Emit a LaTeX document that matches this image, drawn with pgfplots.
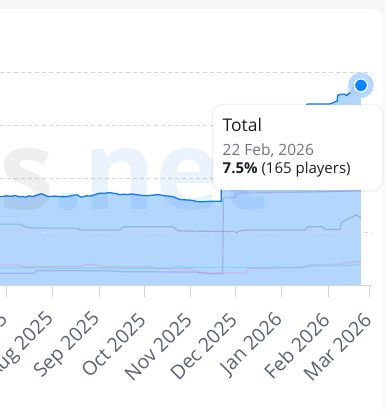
\documentclass[border=0pt]{standalone}
\usepackage{fontspec}
\setmainfont{Open Sans}
\usepackage{pgfplots}
\pgfplotsset{compat=1.18}
\usepackage{pgfplotstable}
\pgfdeclarelayer{bglayer}
\pgfsetlayers{bglayer,main}
\definecolor{bgc}{RGB}{246,246,247}
\definecolor{fillc}{RGB}{179,214,255}
\definecolor{linec}{RGB}{12,124,240}
\definecolor{dotc}{RGB}{10,132,255}
\definecolor{haloc}{RGB}{176,212,255}
\definecolor{gridc}{RGB}{212,214,220}
\definecolor{axisc}{RGB}{208,213,222}
\definecolor{tickc}{RGB}{88,98,118}
\definecolor{titlec}{RGB}{24,30,44}
\definecolor{datec}{RGB}{110,116,128}
\definecolor{s1c}{RGB}{100,110,130}
\definecolor{s2c}{RGB}{120,100,200}
\definecolor{s3c}{RGB}{230,120,150}
\definecolor{s4c}{RGB}{60,210,190}
\definecolor{wmgray}{RGB}{80,80,80}
\definecolor{wmblue}{RGB}{30,120,230}

% day index: 0 = 1 Jul 2025
\pgfplotstableread{
d v
-10 3.36
-6 3.35
-3 3.33
0 3.36
3 3.34
6 3.37
8 3.33
10.7 3.33
13 3.31
15 3.36
17.4 3.33
20 3.38
23.4 3.44
25 3.40
27 3.35
28.8 3.33
32 3.35
36 3.33
40 3.33
43 3.36
47 3.40
49 3.33
50 3.31
52 3.34
53.5 3.36
56 3.35
59 3.40
62 3.46
65 3.45
69 3.48
71 3.46
73.6 3.44
75.6 3.40
78 3.42
81 3.41
84 3.43
87 3.40
90 3.38
93.7 3.36
97 3.38
100 3.40
102 3.40
105 3.37
108 3.35
111 3.33
113 3.29
116 3.22
119 3.21
122.5 3.20
125 3.18
127 3.15
129 3.14
132 3.14
135 3.15
138 3.16
141 3.16
143.5 3.16
144 5.90
150 5.95
160 6.05
170 6.20
180 6.35
190 6.50
198 6.65
201.5 6.80
210 6.80
216 6.80
218 6.84
219.5 6.88
221 6.90
221.5 7.13
224 7.17
226 7.17
227.6 7.12
229 7.20
231 7.26
232 7.45
235 7.48
237 7.50
}\total

\pgfplotstableread{
d v
-10 2.30
8.9 2.30
12.3 2.20
17.7 2.15
47 2.15
49 2.08
75.8 2.08
77.9 2.20
111.3 2.20
114.7 2.05
152.8 2.01
154 1.97
156 2.05
159.5 2.08
199.6 2.08
201.6 2.20
211 2.20
213 2.10
223 2.10
224 2.35
229.4 2.53
234 2.64
237 2.53
}\sgray

\pgfplotstableread{
d v
-10 0.46
19 0.46
20.3 0.58
22.3 0.55
69 0.55
75.8 0.52
129 0.50
136 0.44
144.5 0.44
145 3.28
152.8 3.30
153.4 3.46
200.9 3.50
237 3.55
}\spurple

\pgfplotstableread{
d v
-10 0.77
8.9 0.77
12.3 0.70
49 0.70
52.4 0.79
59 0.79
62.5 0.70
95.9 0.70
99 0.64
122.7 0.64
129 0.47
159.5 0.47
161.5 0.64
196 0.66
203 0.77
223 0.80
237 0.93
}\spink

\pgfplotstableread{
d v
-10 0.67
15.6 0.67
29 0.65
109 0.65
114.7 0.73
119 0.68
199.6 0.68
203 0.73
229.4 0.75
237 0.80
}\steal

\pgfplotstableread{
d v
237 7.5
}\last

\begin{document}
\begin{tikzpicture}[x=1pt,y=1pt]
\begin{axis}[
  scale only axis, width=372pt, height=213.5pt,
  xmin=-4.41, xmax=244.4, ymin=0, ymax=8,
  axis on top,
  axis x line*=bottom, axis y line*=left,
  y axis line style={draw=none}, ytick style={draw=none},
  ytick={2,4,6,8}, yticklabels={}, ymajorgrids,
  grid style={dash pattern=on 4pt off 3pt, gridc, line width=0.8pt},
  xtick={0,31,62,92,123,153,184,215,243},
  xticklabels={Jul 2025,Aug 2025,Sep 2025,Oct 2025,Nov 2025,Dec 2025,Jan 2026,Feb 2026,Mar 2026},
  tick align=outside, major tick length=11pt,
  x axis line style={axisc, line width=1pt},
  xtick style={axisc, line width=1pt},
  xticklabel style={xshift=-2pt, yshift=-20pt, rotate=45, anchor=east, inner sep=0pt, text=tickc,
    font=\fontsize{19.5}{19.5}\selectfont},
  clip mode=individual,
]
\coordinate (O) at (rel axis cs:0,0);
\addplot[fill=fillc, draw=none] table[x=d,y=v] {\total} \closedcycle;
\addplot[s1c, opacity=0.35, line width=1.2pt] table[x=d,y=v] {\sgray};
\addplot[s2c, opacity=0.3, line width=1.2pt] table[x=d,y=v] {\spurple};
\addplot[s3c, opacity=0.3, line width=1.2pt] table[x=d,y=v] {\spink};
\addplot[s4c, opacity=0.35, line width=1.2pt] table[x=d,y=v] {\steal};
\addplot[linec, line width=1.3pt] table[x=d,y=v] {\total};
\addplot[only marks, mark=*, mark size=12.5pt, haloc, opacity=0.9] table[x=d,y=v] {\last};
\addplot[only marks, mark=*, mark size=6.5pt, fill=dotc, draw=white, line width=1.2pt] table[x=d,y=v] {\last};
\end{axis}
\begin{scope}[shift={(O)}]
\begin{scope}[yshift=-125.5pt]
\begin{pgfonlayer}{bglayer}
\fill[bgc] (0,0) rectangle (385,411);
\fill[white, rounded corners=12pt] (-30,-30) rectangle (383,402);
\end{pgfonlayer}
% watermark
\node[anchor=base east, inner sep=0pt, text=wmgray, opacity=0.09,
  font=\bfseries\fontsize{110}{110}\selectfont] at (54,201) {rs};
\node[anchor=base west, inner sep=0pt, text=wmblue, opacity=0.09,
  font=\bfseries\fontsize{110}{110}\selectfont] at (52,201) {.net};
% tooltip
\fill[black, opacity=0.05, rounded corners=11pt] (211.5,219) rectangle (383.5,307);
\fill[white, rounded corners=10pt] (213,221) rectangle (382,306);
\node[anchor=base west, inner sep=0pt, text=titlec, font=\fontsize{17.5}{17.5}\selectfont] at (222.5,279.3) {Total};
\node[anchor=base west, inner sep=0pt, text=datec, font=\fontsize{15.5}{15.5}\selectfont] at (222.5,255) {22 Feb, 2026};
\node[anchor=base west, inner sep=0pt, text=titlec, font=\fontsize{15}{15}\selectfont] at (222.5,237.7) {\textbf{7.5\%} (165 players)};
\pgfresetboundingbox
\path[use as bounding box] (0,0) rectangle (385,411);
\end{scope}
\end{scope}
\end{tikzpicture}
\end{document}
